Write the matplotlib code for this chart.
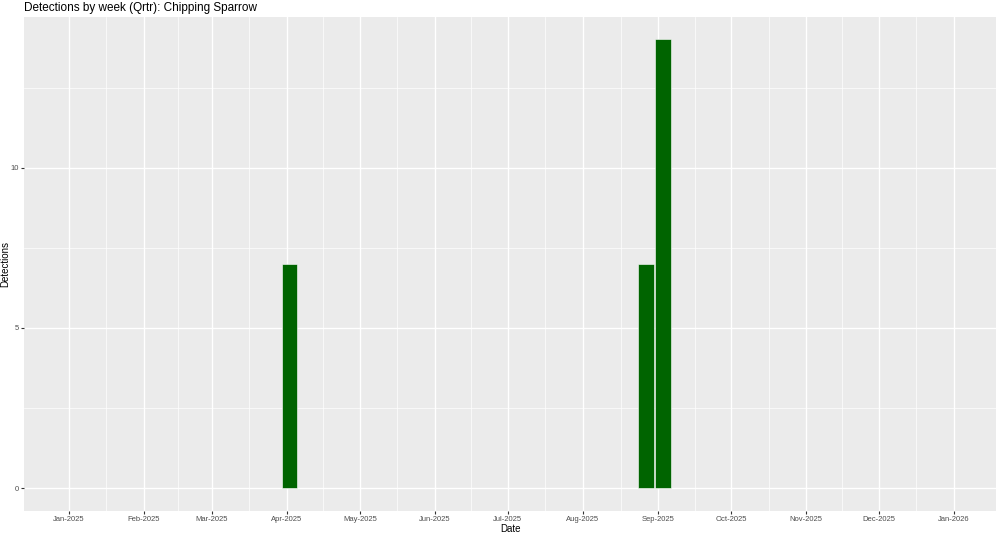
import numpy as np
import pandas as pd
import matplotlib
matplotlib.use("Agg")
import matplotlib.pyplot as plt

plt.rcParams['font.family'] = ['Liberation Sans', 'DejaVu Sans']

# weekly detections (bar centres)
week_dates = pd.to_datetime(["2025-04-02", "2025-08-27", "2025-09-03"])
detections = [7, 7, 14]
month_ticks = pd.date_range("2025-01-01", "2026-01-01", freq="MS")
tick_labels = [d.strftime("%b-%Y") for d in month_ticks]
y_ticks = [0, 5, 10]

fig = plt.figure(figsize=(10, 5.34), dpi=100)
ax = fig.add_axes([0.0243, 0.0436, 0.9717, 0.9245])
ax.set_facecolor("#EBEBEB")

ax.bar(week_dates, detections, width=6.3, color="#006400", edgecolor="white",
       linewidth=0.4, zorder=3)

ax.set_xlim(pd.Timestamp("2024-12-13 16:00"), pd.Timestamp("2026-01-18 07:00"))
ax.set_ylim(-0.7, 14.7)

ax.set_xticks(month_ticks)
ax.set_xticklabels(tick_labels)
minor_x = month_ticks[:-1] + (month_ticks[1:] - month_ticks[:-1]) / 2
ax.set_xticks(minor_x, minor=True)
ax.set_yticks(y_ticks)
ax.set_yticks([2.5, 7.5, 12.5], minor=True)

ax.grid(which="major", color="white", linewidth=1.0, zorder=0)
ax.grid(which="minor", color="white", linewidth=0.5, zorder=0)
ax.set_axisbelow(True)
for s in ax.spines.values():
    s.set_visible(False)

ax.tick_params(which="major", length=2.5, width=0.8, color="#333333",
               labelsize=5.5, labelcolor="#4D4D4D", pad=1.5)
ax.tick_params(which="minor", length=0)

ax.set_xlabel("Date", fontsize=7)
ax.xaxis.set_label_coords(0.5, -0.026)
ax.set_ylabel("Detections", fontsize=7)
ax.yaxis.set_label_coords(-0.0145, 0.5)
ax.set_title("Detections by week (Qrtr): Chipping Sparrow", fontsize=8.5,
             loc="left", pad=4, x=0.0)

fig.savefig("out.png", dpi=100)
